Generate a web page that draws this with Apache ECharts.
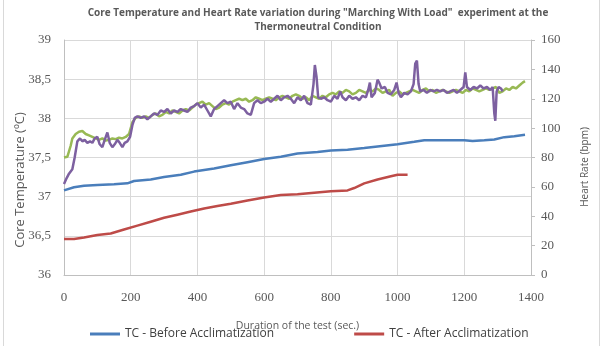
<!DOCTYPE html>
<html>
<head>
<meta charset="utf-8">
<script src="https://cdn.jsdelivr.net/npm/echarts@6/dist/echarts.min.js"></script>
<style>
  html, body { margin: 0; padding: 0; background: #fff; }
  #chart { width: 603px; height: 346px; }
</style>
</head>
<body>
<div id="chart"></div>
<script>
// TC (left axis, ºC), pairs of [seconds, value]
var tcBefore = [[0,37.08],[30,37.12],[60,37.14],[100,37.15],[150,37.16],[190,37.17],[210,37.20],[260,37.22],[300,37.25],[350,37.28],[390,37.32],[450,37.36],[500,37.40],[550,37.44],[600,37.48],[650,37.51],[700,37.55],[760,37.57],[800,37.59],[850,37.60],[900,37.62],[960,37.65],[1000,37.67],[1050,37.70],[1080,37.72],[1150,37.72],[1200,37.72],[1225,37.71],[1260,37.72],[1290,37.73],[1320,37.76],[1350,37.77],[1382,37.79]];
var tcAfter = [[0,36.46],[30,36.46],[60,36.48],[100,36.51],[140,36.53],[180,36.58],[220,36.63],[260,36.68],[300,36.73],[340,36.77],[380,36.81],[420,36.85],[460,36.88],[500,36.91],[550,36.95],[600,36.99],[650,37.02],[700,37.03],[750,37.05],[800,37.07],[850,37.08],[870,37.11],[900,37.17],[940,37.22],[980,37.26],[1000,37.28],[1030,37.28]];

// heart rate (right axis, bpm)
var hrBefore = [[0,80],[10,80.5],[15,79.5],[20,88],[25,93],[35,96],[45,97.5],[55,98],[65,96],[75,95],[85,94],[95,93],[105,92],[115,93],[125,91.5],[135,92],[145,93],[155,92.5],[165,93.5],[175,93],[185,94],[195,96],[205,104],[215,107],[225,108],[235,107],[245,108],[255,107],[265,109],[275,110],[285,108],[295,109],[305,111],[315,110],[325,112],[335,111],[345,110],[355,112],[365,113],[375,112],[385,114],[395,116],[405,117],[415,118],[425,116],[435,117],[445,115],[455,113],[465,114],[475,116],[485,117],[495,116],[505,118],[515,119],[525,120],[535,119],[545,120],[555,118],[565,119],[575,121],[585,120],[595,119],[605,120],[615,121],[625,120],[635,119],[645,121],[655,122],[665,121],[675,120],[685,122],[695,123],[705,122],[715,120],[725,121],[735,119],[745,122],[755,121],[765,120],[775,122],[785,121],[795,123],[805,124],[815,123],[825,125],[835,124],[845,126],[855,125],[865,123],[875,124],[885,126],[895,125],[905,124],[915,126],[925,125],[935,127],[945,126],[955,124],[965,125],[975,126],[985,122],[995,124],[1005,125],[1015,123],[1025,124],[1035,125],[1045,126],[1055,125],[1065,124],[1075,126],[1085,127],[1095,125],[1105,126],[1115,124],[1125,125],[1135,126],[1145,125],[1155,124],[1165,125],[1175,126],[1185,125],[1195,124],[1205,126],[1215,125],[1225,127],[1235,126],[1245,125],[1255,126],[1265,127],[1275,126],[1285,127],[1295,128],[1305,124],[1315,125],[1325,127],[1335,126],[1345,128],[1355,127],[1365,129],[1375,131],[1382,132]];
var hrAfter = [[0,62],[8,66],[15,69],[25,72],[32,80],[40,91],[48,93],[55,91],[62,92],[70,90],[78,91],[85,90],[92,93],[100,94],[107,89],[115,87],[122,92],[130,97],[137,90],[145,87],[152,89],[160,92],[167,90],[175,87],[182,90],[190,91],[198,94],[205,102],[212,107],[220,108],[230,107],[240,108],[250,106],[260,108],[270,110],[280,109],[290,112],[300,111],[310,113],[320,110],[330,112],[340,111],[350,113],[360,112],[370,111],[380,114],[390,115],[400,117],[410,114],[420,116],[430,112],[440,108],[450,113],[460,115],[470,117],[480,119],[490,117],[500,118],[510,113],[520,117],[530,114],[540,113],[550,110],[560,109],[570,117],[580,119],[590,117],[600,118],[610,120],[620,118],[630,120],[640,122],[650,119],[660,121],[670,122],[680,120],[690,117],[700,121],[710,119],[720,122],[730,117],[740,116],[748,130],[752,143],[757,135],[762,121],[770,120],[780,121],[790,119],[800,118],[810,122],[820,120],[828,125],[835,121],[845,119],[855,122],[865,120],[875,121],[885,119],[895,122],[905,121],[912,126],[917,131],[922,121],[932,124],[940,133],[945,131],[952,127],[962,128],[970,124],[980,123],[990,126],[997,131],[1003,124],[1010,121],[1020,124],[1030,123],[1040,125],[1048,130],[1053,144],[1058,146],[1063,130],[1068,125],[1078,126],[1088,124],[1098,126],[1108,125],[1118,126],[1128,125],[1138,126],[1148,124],[1158,125],[1168,126],[1178,124],[1188,126],[1198,128],[1203,138],[1208,128],[1218,126],[1228,128],[1238,127],[1248,129],[1258,127],[1268,128],[1278,126],[1285,128],[1290,110],[1293,105],[1297,125],[1303,128],[1310,127],[1315,125]];

var xTicks = { min: 0, max: 1400, step: 200 };

var grey = '#595959';
var numFont = '"Liberation Serif", serif';
var txtFont = '"Open Sans", sans-serif';

var myChart = echarts.init(document.getElementById('chart'));

var option = {
    animation: false,
    backgroundColor: '#fff',
    title: {
        text: 'Core Temperature and Heart Rate variation during "Marching With Load"  experiment at the\nThermoneutral Condition',
        left: 313,
        top: 1,
        textAlign: 'center',
        textStyle: { fontFamily: txtFont, fontSize: 10, fontWeight: 'bold', color: grey, lineHeight: 14 }
    },
    legend: {
        data: ['TC - Before Acclimatization', 'TC - After Acclimatization'],
        left: 85,
        top: 323,
        itemWidth: 30,
        itemHeight: 3,
        itemGap: 80,
        icon: 'rect',
        textStyle: { fontFamily: txtFont, fontSize: 12, color: '#404040' }
    },
    grid: { left: 64, right: 72, top: 40, bottom: 71 },
    xAxis: {
        type: 'value',
        min: xTicks.min,
        max: xTicks.max,
        interval: xTicks.step,
        name: 'Duration of the test (sec.)',
        nameLocation: 'middle',
        nameGap: 46,
        nameTextStyle: { fontFamily: txtFont, fontSize: 10.5, color: grey },
        axisLine: { lineStyle: { color: '#bfbfbf' } },
        axisTick: { show: false },
        axisLabel: {
            margin: 16,
            fontFamily: numFont,
            fontSize: 13,
            color: grey,
            formatter: function (v) { return String(v); }
        },
        splitLine: { lineStyle: { color: '#d9d9d9' } }
    },
    yAxis: [
        {
            type: 'value',
            min: 36,
            max: 39,
            interval: 0.5,
            axisLine: { show: true, lineStyle: { color: '#bfbfbf' } },
            axisTick: { show: false },
            axisLabel: {
                margin: 13,
                fontFamily: numFont,
                fontSize: 13,
                color: grey,
                formatter: function (v) { return String(v).replace('.', ','); }
            },
            splitLine: { lineStyle: { color: '#d9d9d9' } }
        },
        {
            type: 'value',
            min: 0,
            max: 160,
            interval: 20,
            position: 'right',
            axisLine: { show: true, lineStyle: { color: '#bfbfbf' } },
            axisTick: { show: true, length: 4, lineStyle: { color: '#bfbfbf' } },
            axisLabel: { margin: 10, fontFamily: numFont, fontSize: 13, color: grey },
            splitLine: { show: false }
        }
    ],
    graphic: [
        {
            type: 'rect',
            shape: { x: 3.5, y: -2, width: 596, height: 352 },
            style: { fill: 'none', stroke: '#d9d9d9', lineWidth: 1 }
        },
        {
            type: 'text',
            x: 20,
            y: 180,
            rotation: Math.PI / 2,
            style: {
                text: 'Core Temperature (ºC)',
                fontFamily: txtFont,
                fontSize: 13,
                fill: grey,
                align: 'center',
                verticalAlign: 'middle'
            }
        },
        {
            type: 'text',
            x: 585,
            y: 167,
            rotation: Math.PI / 2,
            style: {
                text: 'Heart Rate (bpm)',
                fontFamily: txtFont,
                fontSize: 10,
                fill: grey,
                align: 'center',
                verticalAlign: 'middle'
            }
        }
    ],
    series: [
        {
            name: 'TC - Before Acclimatization',
            type: 'line',
            yAxisIndex: 0,
            data: tcBefore,
            showSymbol: false,
            color: '#4a7ebb',
            lineStyle: { width: 2.5 }
        },
        {
            name: 'TC - After Acclimatization',
            type: 'line',
            yAxisIndex: 0,
            data: tcAfter,
            showSymbol: false,
            color: '#be4b48',
            lineStyle: { width: 2.5 }
        },
        {
            name: 'HR - Before Acclimatization',
            type: 'line',
            yAxisIndex: 1,
            data: hrBefore,
            showSymbol: false,
            color: '#98b954',
            lineStyle: { width: 2.5 }
        },
        {
            name: 'HR - After Acclimatization',
            type: 'line',
            yAxisIndex: 1,
            data: hrAfter,
            showSymbol: false,
            color: '#7d60a0',
            lineStyle: { width: 2.5 }
        }
    ]
};

myChart.setOption(option);
</script>
</body>
</html>
